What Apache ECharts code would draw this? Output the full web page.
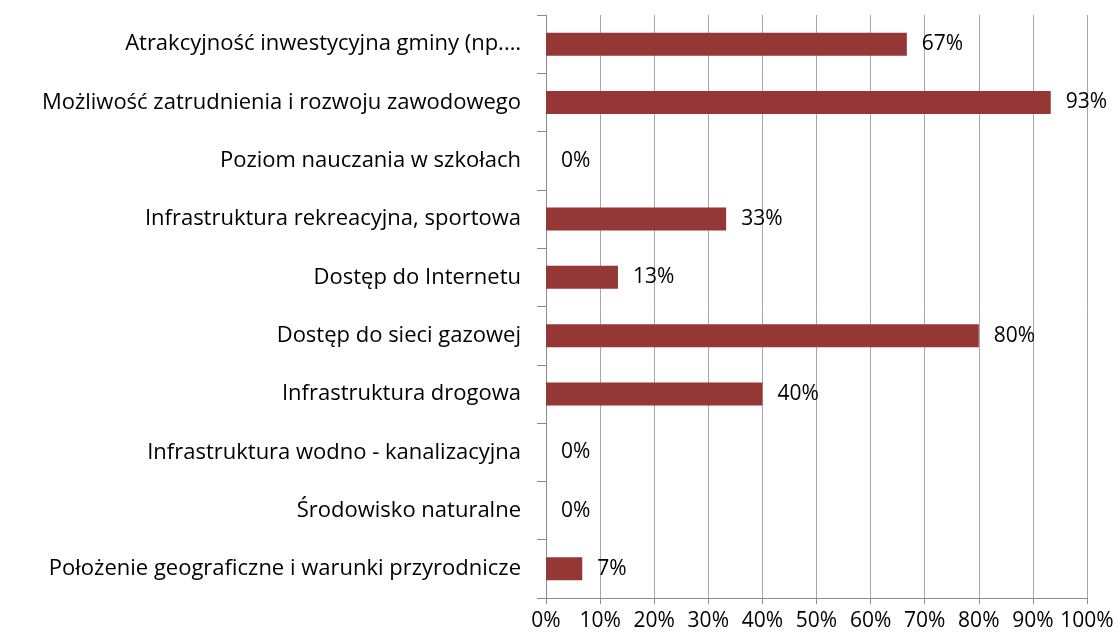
<!DOCTYPE html>
<html><head><meta charset="utf-8">
<script src="https://cdn.jsdelivr.net/npm/echarts@6/dist/echarts.min.js"></script>
<style>html,body{margin:0;padding:0;background:#fff}#c{width:1117px;height:636px}</style>
</head><body><div id="c"></div>
<script>
const categories = [
  "Atrakcyjność inwestycyjna gminy (np.…",
  "Możliwość zatrudnienia i rozwoju zawodowego",
  "Poziom nauczania w szkołach",
  "Infrastruktura rekreacyjna, sportowa",
  "Dostęp do Internetu",
  "Dostęp do sieci gazowej",
  "Infrastruktura drogowa",
  "Infrastruktura wodno - kanalizacyjna",
  "Środowisko naturalne",
  "Położenie geograficzne i warunki przyrodnicze"
];
const values = [66.7, 93.3, 0, 33.3, 13.3, 80, 40, 0, 0, 6.7];
const xTicks = [0,10,20,30,40,50,60,70,80,90,100];

const chart = echarts.init(document.getElementById('c'), null, {renderer:'canvas'});
const font = 'Open Sans';
const fs = 22;
chart.setOption({
  animation:false,
  grid:{left:546, right:30, top:15, bottom:38, containLabel:false},
  xAxis:{type:'value', min:0, max:100, interval:10,
    axisLine:{show:true, lineStyle:{color:'#8c8c8c', width:1}},
    axisTick:{show:true, length:6, lineStyle:{color:'#8c8c8c'}},
    splitLine:{show:true, lineStyle:{color:'#a6a6a6', width:1}},
    axisLabel:{formatter:v=>v+'%', color:'#000', fontFamily:font, fontSize:fs-1, margin:13}
  },
  yAxis:{type:'category', data:categories, inverse:true,
    axisLine:{show:true, lineStyle:{color:'#8c8c8c', width:1}},
    axisTick:{show:true, length:9, inside:false, lineStyle:{color:'#8c8c8c'}},
    axisLabel:{color:'#000', fontFamily:font, fontSize:fs, margin:25}
  },
  series:[{type:'bar', data:values, barWidth:23,
    itemStyle:{color:'#953735'},
    label:{show:true, position:'right', distance:15, formatter:p=>Math.round(p.value)+'%',
      color:'#000', fontFamily:font, fontSize:fs-1}
  }]
});
</script></body></html>
